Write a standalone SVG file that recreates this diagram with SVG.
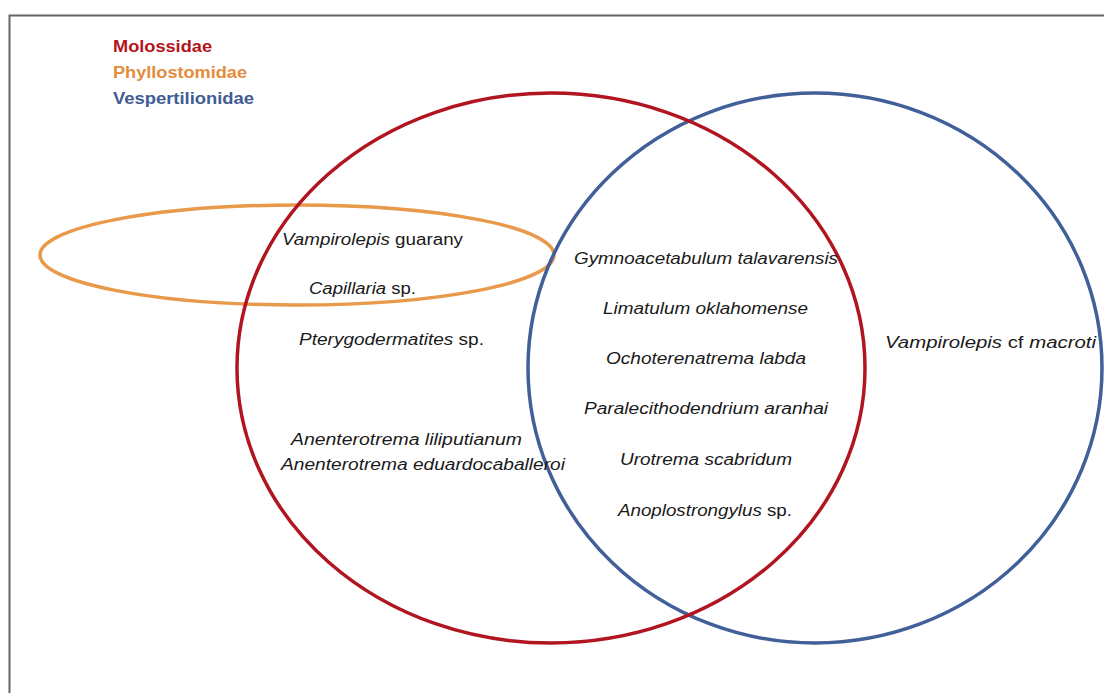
<svg xmlns="http://www.w3.org/2000/svg" width="1104" height="693" viewBox="0 0 1104 693">
<style>
.t{font-family:"Liberation Sans",Arial,sans-serif;font-size:16px;fill:#1a1a1a}
.i{font-style:italic}
.lg{font-family:"Liberation Sans",Arial,sans-serif;font-size:16px;font-weight:bold}
.set{fill:none;stroke-width:3.5}
</style>
<rect width="1104" height="693" fill="#fff"/>
<rect x="9.5" y="15.5" width="1200" height="800" fill="none" stroke="#666" stroke-width="2"/>
<g id="legend">
<text class="lg" x="113" y="52" fill="#B3141C" textLength="99" lengthAdjust="spacingAndGlyphs">Molossidae</text>
<text class="lg" x="113" y="78" fill="#E38C3C" textLength="134" lengthAdjust="spacingAndGlyphs">Phyllostomidae</text>
<text class="lg" x="113" y="104" fill="#3F5C94" textLength="141" lengthAdjust="spacingAndGlyphs">Vespertilionidae</text>
</g>
<g id="connectors"></g>
<g id="phyllostomidae"><ellipse class="set" cx="297" cy="255" rx="257" ry="50" stroke="#E8994A"/></g>
<g id="vespertilionidae"><ellipse class="set" cx="815" cy="368" rx="287" ry="275" stroke="#41609A"/></g>
<g id="molossidae"><ellipse class="set" cx="551" cy="368" rx="314" ry="275" stroke="#B01520"/></g>
<g id="labels">
<text class="t" x="282" y="245" textLength="181" lengthAdjust="spacingAndGlyphs"><tspan class="i">Vampirolepis</tspan> guarany</text>
<text class="t" x="309" y="294" textLength="107" lengthAdjust="spacingAndGlyphs"><tspan class="i">Capillaria</tspan> sp.</text>
<text class="t" x="299" y="345" textLength="185" lengthAdjust="spacingAndGlyphs"><tspan class="i">Pterygodermatites</tspan> sp.</text>
<text class="t i" x="291" y="445" textLength="231" lengthAdjust="spacingAndGlyphs">Anenterotrema liliputianum</text>
<text class="t i" x="281" y="470" textLength="284" lengthAdjust="spacingAndGlyphs">Anenterotrema eduardocaballeroi</text>
<text class="t i" x="574" y="264" textLength="264" lengthAdjust="spacingAndGlyphs">Gymnoacetabulum talavarensis</text>
<text class="t i" x="603" y="314" textLength="205" lengthAdjust="spacingAndGlyphs">Limatulum oklahomense</text>
<text class="t i" x="606" y="364" textLength="200" lengthAdjust="spacingAndGlyphs">Ochoterenatrema labda</text>
<text class="t i" x="584" y="414" textLength="244" lengthAdjust="spacingAndGlyphs">Paralecithodendrium aranhai</text>
<text class="t i" x="620" y="465" textLength="172" lengthAdjust="spacingAndGlyphs">Urotrema scabridum</text>
<text class="t" x="618" y="516" textLength="174" lengthAdjust="spacingAndGlyphs"><tspan class="i">Anoplostrongylus</tspan> sp.</text>
<text class="t" x="885" y="348" textLength="211" lengthAdjust="spacingAndGlyphs"><tspan class="i">Vampirolepis</tspan> cf <tspan class="i">macroti</tspan></text>
</g>
</svg>
